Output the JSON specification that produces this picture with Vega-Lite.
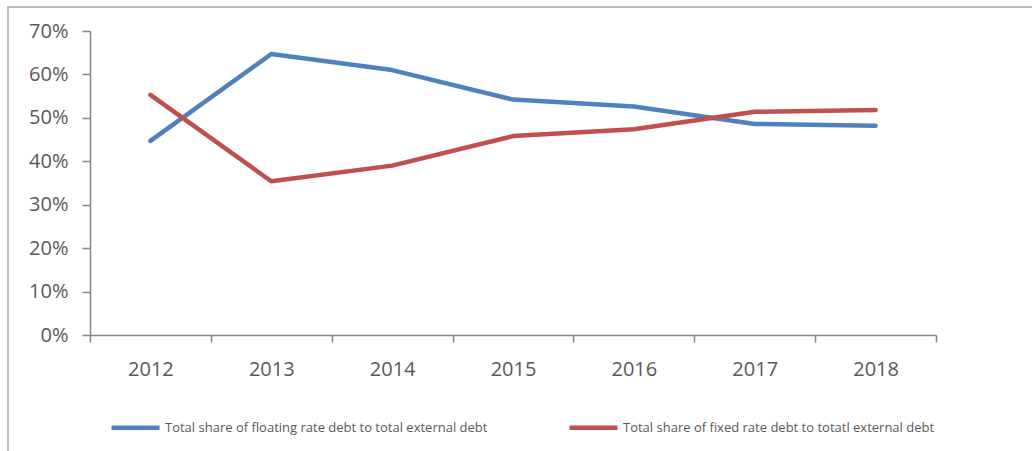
{
  "$schema": "https://vega.github.io/schema/vega-lite/v6.json",
  "width": 1030,
  "height": 450,
  "autosize": {"type": "none"},
  "padding": {"left": 8, "top": 7, "right": 0, "bottom": 0},
  "background": "white",
  "data": {
    "values": [
      {"year": "2012", "series": "Total share of floating rate debt to total external debt", "share": 0.447},
      {"year": "2013", "series": "Total share of floating rate debt to total external debt", "share": 0.647},
      {"year": "2014", "series": "Total share of floating rate debt to total external debt", "share": 0.610},
      {"year": "2015", "series": "Total share of floating rate debt to total external debt", "share": 0.542},
      {"year": "2016", "series": "Total share of floating rate debt to total external debt", "share": 0.526},
      {"year": "2017", "series": "Total share of floating rate debt to total external debt", "share": 0.486},
      {"year": "2018", "series": "Total share of floating rate debt to total external debt", "share": 0.482},
      {"year": "2012", "series": "Total share of fixed rate debt to totatl external debt", "share": 0.553},
      {"year": "2013", "series": "Total share of fixed rate debt to totatl external debt", "share": 0.354},
      {"year": "2014", "series": "Total share of fixed rate debt to totatl external debt", "share": 0.390},
      {"year": "2015", "series": "Total share of fixed rate debt to totatl external debt", "share": 0.458},
      {"year": "2016", "series": "Total share of fixed rate debt to totatl external debt", "share": 0.474},
      {"year": "2017", "series": "Total share of fixed rate debt to totatl external debt", "share": 0.514},
      {"year": "2018", "series": "Total share of fixed rate debt to totatl external debt", "share": 0.518}
    ]
  },
  "mark": {"type": "line", "strokeWidth": 4.5, "strokeCap": "round", "strokeJoin": "round"},
  "encoding": {
    "x": {
      "field": "year",
      "type": "nominal",
      "scale": {"range": [82, 928], "paddingInner": 0, "paddingOuter": 0},
      "axis": {
        "title": null,
        "labelAngle": 0,
        "tickBand": "extent",
        "offset": -122,
        "labelPadding": 17,
        "tickSize": 7
      }
    },
    "y": {
      "field": "share",
      "type": "quantitative",
      "scale": {"domain": [0, 0.7], "range": [328, 24], "nice": false},
      "axis": {
        "title": null,
        "format": ".0%",
        "values": [0, 0.1, 0.2, 0.3, 0.4, 0.5, 0.6, 0.7],
        "grid": false,
        "offset": -82,
        "labelPadding": 14,
        "tickSize": 8
      }
    },
    "color": {
      "field": "series",
      "type": "nominal",
      "sort": null,
      "scale": {
        "domain": [
          "Total share of floating rate debt to total external debt",
          "Total share of fixed rate debt to totatl external debt"
        ],
        "range": ["#4F81BD", "#C0504D"]
      },
      "legend": {
        "title": null,
        "orient": "none",
        "legendX": 101,
        "legendY": 394,
        "direction": "horizontal",
        "columns": 2,
        "columnPadding": 72,
        "symbolType": "stroke",
        "symbolSize": 2304,
        "symbolStrokeWidth": 4.5,
        "labelOffset": 3,
        "labelLimit": 0,
        "labelFont": "Open Sans",
        "labelFontSize": 13,
        "labelColor": "#595959"
      }
    }
  },
  "config": {
    "view": {"stroke": "#A6A6A6", "strokeWidth": 1.5},
    "axis": {
      "labelFont": "Open Sans",
      "labelFontSize": 20,
      "labelColor": "#595959",
      "domainColor": "#868686",
      "domainWidth": 1.5,
      "tickColor": "#868686",
      "tickWidth": 1.5
    }
  }
}
